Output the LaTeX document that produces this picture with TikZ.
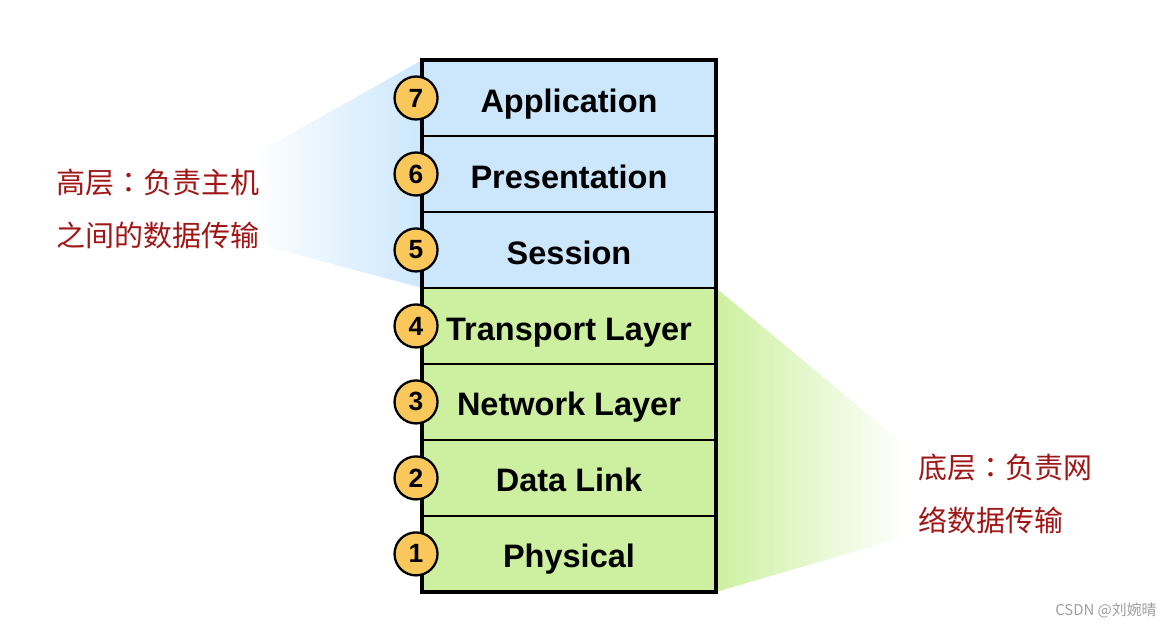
\documentclass[tikz,border=0pt]{standalone}
\usepackage{fontspec}
\setmainfont{Liberation Sans}
\newfontfamily\cjk{Noto Sans CJK SC}
\newfontfamily\cjktc{Noto Sans CJK TC}
\usetikzlibrary{positioning}
\usetikzlibrary{backgrounds}
\definecolor{upperblue}{RGB}{204,231,252}
\definecolor{lowergreen}{RGB}{205,240,160}
\definecolor{numorange}{RGB}{250,200,90}
\definecolor{notered}{RGB}{160,22,22}

\begin{document}
\begin{tikzpicture}
[x=0.02cm,y=-0.02cm,%
  layer/.style={rectangle,draw,line width=1.1pt,outer sep=0pt,minimum width=5.88cm,minimum height=1.52cm,inner sep=0pt,text height=16pt,text depth=0pt,font=\fontsize{18.5}{22}\selectfont\bfseries},%
  upper/.style={layer,fill=upperblue},%
  lower/.style={layer,fill=lowergreen},%
  num/.style={circle,draw,line width=1.3pt,fill=numorange,minimum size=0.86cm,inner sep=0pt,font=\fontsize{15}{17}\selectfont\bfseries},%
  note/.style={text=notered,align=left,anchor=west,inner sep=0pt,font=\cjk\fontsize{16.5}{30}\selectfont},%
  node distance=0pt]
\useasboundingbox (0,0) rectangle (1171,628);
% the stack
\node[upper] (l7) at (569,98) {Application};
\node[upper,below=of l7] (l6) {Presentation};
\node[upper,below=of l6] (l5) {Session};
\node[lower,below=of l5] (l4) {Transport Layer};
\node[lower,below=of l4] (l3) {Network Layer};
\node[lower,below=of l3] (l2) {Data Link};
\node[lower,below=of l2] (l1) {Physical};
\draw[line width=2pt] (l7.north west) rectangle (l1.south east);
% numbers
\node[num] (n7) at ([xshift=-0.12cm]l7.west) {7};
\node[num] (n6) at ([xshift=-0.12cm]l6.west) {6};
\node[num] (n5) at ([xshift=-0.12cm]l5.west) {5};
\node[num] (n4) at ([xshift=-0.12cm]l4.west) {4};
\node[num] (n3) at ([xshift=-0.12cm]l3.west) {3};
\node[num] (n2) at ([xshift=-0.12cm]l2.west) {2};
\node[num] (n1) at ([xshift=-0.12cm]l1.west) {1};
% notes
\node[note] (hi) at (56,209) {高层{\cjktc ：}负责主机\\之间的数据传输};
\node[note] (lo) at (918,494) {底层{\cjktc ：}负责网\\络数据传输};
\node[anchor=east,inner sep=0pt,text=black!38,font=\cjk\fontsize{8.5}{10}\selectfont] (mark) at (1157,610) {CSDN @刘婉晴};
% wedges
\coordinate (hi top) at (250,157);
\coordinate (hi bot) at (250,242);
\coordinate (lo top) at (905,445);
\coordinate (lo bot) at (905,537);
\begin{scope}[on background layer]
\shade[left color=white,right color=upperblue] (hi top) -- (l7.north west) -- (l5.south west) -- (hi bot) -- cycle;
\shade[left color=lowergreen,right color=white] (l4.north east) -- (lo top) -- (lo bot) -- (l1.south east) -- cycle;
\end{scope}
\end{tikzpicture}
\end{document}
